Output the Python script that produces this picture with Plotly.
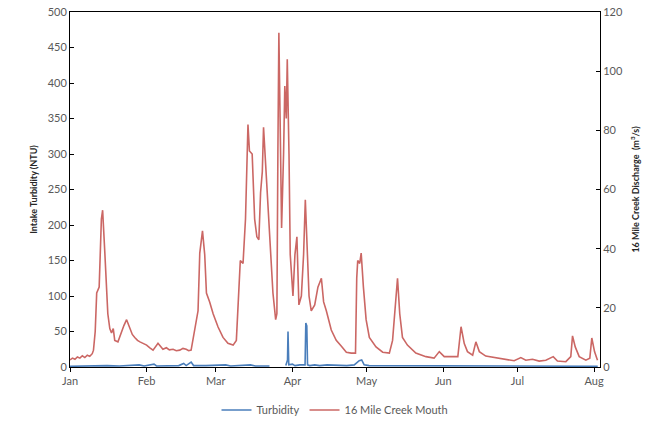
import pandas as pd
import plotly.graph_objects as go

# ---- data ----
start = pd.Timestamp("2013-01-01")

# 16 Mile Creek Mouth discharge (m3/s): day offset from Jan 1, value
q_days = [0, 1, 2, 3, 4, 5, 6, 7, 8, 9, 9.5, 10.2, 10.8, 11.8, 12.7, 13.2, 14.1, 15.3, 16.1, 16.8,
          17.5, 18.1, 19.4, 20.8, 21.8, 22.9, 24.2, 25.2, 26.2, 27.3, 28.3, 29.5, 31, 32.3, 33.6,
          35.6, 36.5, 37.6, 39, 40.2, 41.7, 43, 44.4, 45.7, 47, 48, 49, 50.5, 51.8, 52.5, 53.6,
          54.5, 55.2, 56.5, 57.9, 59.9, 61.9, 63.9, 66, 67.3, 68.4, 68.9, 70, 71, 72, 72.6, 73.7,
          74.7, 75.6, 76.4, 77.1, 77.8, 78.3, 79.4, 80.8, 82.1, 83.2, 83.7, 84.1, 84.5, 85, 85.6,
          86.4, 86.9, 87.5, 87.9, 88.6, 89.1, 90.2, 91, 91.8, 92.6, 93.6, 94.5, 95.2, 95.9, 96.7,
          97.6, 99, 100.3, 101.7, 102.6, 103.7, 105.7, 107.7, 109.8, 111.8, 113.8, 115.5, 116,
          116.4, 117.2, 117.8, 118.7, 119.8, 121.1, 123.8, 126.5, 129.2, 130.5, 131.5, 132.5,
          133.4, 134.5, 136.5, 139.9, 144, 147.3, 149.4, 151.4, 153.5, 156.9, 158.2, 159.5, 160.8,
          162.9, 164.2, 165.6, 168.2, 171.6, 173.6, 176.3, 179.7, 182.4, 184.4, 187.1, 189.8,
          192.5, 195.5, 197.2, 200.6, 202.6, 203.3, 204.4, 206, 208.7, 210.3, 211.1, 212.2, 213.4]
q_vals = [2.4, 3.0, 2.6, 3.4, 3.0, 3.8, 3.2, 4.0, 3.6, 4.5, 5.7, 12, 25, 27, 50, 53, 38.5, 18, 13, 11.5,
          13, 9, 8.5, 12, 14, 16, 13.5, 11, 10, 9, 8.5, 8, 7.4, 6.5, 5.7,
          8, 7, 6, 6.5, 5.8, 6, 5.5, 5.7, 6.3, 6, 5.5, 5.7, 13.5, 19, 38.5, 46,
          38, 25, 22, 18, 13.5, 10, 8, 7.4, 9, 27, 36, 35, 50, 82, 73, 72,
          50, 44, 43, 59, 66, 81, 64, 44, 25, 16, 18, 72, 113, 84, 47,
          72, 95, 84, 104, 72, 38, 24, 38, 44, 21, 24, 38, 56.5, 38, 24,
          19, 21, 27, 30, 22, 19, 12.5, 9, 7, 5, 4.7, 4.7, 30,
          36, 35, 38.5, 27, 16, 10, 6.8, 5, 4.7, 9, 20, 30,
          18, 10, 7.4, 4.7, 3.5, 3, 5.2, 3.5, 3.5, 3.5, 13.6, 7.9, 5.2,
          4, 8.5, 5.2, 3.7, 3.2, 3, 2.6, 2.1, 3.2, 2.3, 2.6, 2.0,
          2.3, 3.5, 2.0, 1.8, 3.5, 10.5, 6.8, 3.5, 2.3, 3, 9.8, 5.2, 2.3]

# Intake turbidity (NTU): day offset from Jan 1, value (None = missing)
t_days = [0, 5, 10, 15, 20, 25, 28, 30, 34, 35, 40, 44, 46, 47, 49, 50, 55, 60, 63, 65, 70, 73,
          75, 80, 80.7, 84, 87.3, 88.0, 88.2, 88.5, 90, 91, 93, 95.1, 95.4, 95.8, 96.1, 97, 99,
          101, 104, 108, 112, 115, 117, 118, 119, 121, 125, 130, 135, 140, 145, 150, 160, 170,
          180, 190, 200, 213.5]
t_vals = [1, 1.5, 1, 2, 1.5, 2, 3, 1.5, 4, 1.5, 2, 2, 5, 2, 7, 2, 2, 2, 3, 1.5, 2, 3,
          1.5, 1.5, 1.5, None, 2, 10, 50, 3, 4, 2, 3, 3, 62, 58, 3, 2, 3,
          2, 3, 2, 2, 3, 9, 10, 3, 2, 2, 1.5, 2, 1.5, 1.5, 1, 1, 1,
          1, 1, 1, 1]

month_ticks = ["2013-01-01", "2013-02-01", "2013-03-01", "2013-04-01", "2013-05-01",
               "2013-06-01", "2013-07-01", "2013-08-01"]
month_labels = ["Jan", "Feb", "Mar", "Apr", "May", "Jun", "Jul", "Aug"]

q_x = [start + pd.Timedelta(days=d) for d in q_days]
t_x = [start + pd.Timedelta(days=d) for d in t_days]

FONT = "Lato, 'Open Sans', sans-serif"
TICKCOL = "#595959"

fig = go.Figure()
fig.add_trace(go.Scatter(x=q_x, y=q_vals, mode="lines", name="16 Mile Creek Mouth",
                         line=dict(color="#CB6764", width=1.6), yaxis="y2"))
fig.add_trace(go.Scatter(x=t_x, y=t_vals, mode="lines", name="Turbidity",
                         line=dict(color="#4A7EBB", width=1.6), connectgaps=False))

fig.update_layout(
    width=664, height=422,
    margin=dict(l=70, r=64, t=12, b=55, autoexpand=False),
    paper_bgcolor="white", plot_bgcolor="white",
    font=dict(family=FONT, size=11, color=TICKCOL),
    showlegend=True,
    legend=dict(orientation="h", x=0.5, xanchor="center", y=-0.121, yanchor="middle",
                traceorder="reversed", font=dict(size=11, color=TICKCOL)),
    xaxis=dict(type="date", range=["2013-01-01", "2013-08-03 10:00"], automargin=False,
               tickvals=month_ticks, ticktext=month_labels,
               showgrid=False, zeroline=False, showline=True, linecolor="black", linewidth=1,
               mirror=True, ticks="outside", ticklen=4, tickcolor="black",
               tickfont=dict(size=11, color=TICKCOL)),
    yaxis=dict(range=[0, 500], dtick=50, showgrid=False, zeroline=False, automargin=False,
               showline=True, linecolor="black", linewidth=1,
               ticks="inside", ticklen=4, tickcolor="black",
               tickfont=dict(size=11, color=TICKCOL),
               title=dict(text="<b>Intake Turbidity (NTU)</b>", font=dict(size=9, color="#262626"),
                          standoff=8)),
    yaxis2=dict(range=[0, 120], dtick=20, overlaying="y", side="right", showgrid=False,
                zeroline=False, showline=True, linecolor="black", linewidth=1, automargin=False,
                ticks="inside", ticklen=4, tickcolor="black",
                tickfont=dict(size=11, color=TICKCOL),
                title=dict(text="<b>16 Mile Creek Discharge  (m<sup>3</sup>/s)</b>",
                           font=dict(size=9, color="#262626"), standoff=10)),
)

# remove the browser's default 8px body margin so the figure fills the window exactly
fig.write_html("out.html", config={"displayModeBar": False},
               post_script="document.body.style.margin='0';document.body.style.overflow='hidden';")
